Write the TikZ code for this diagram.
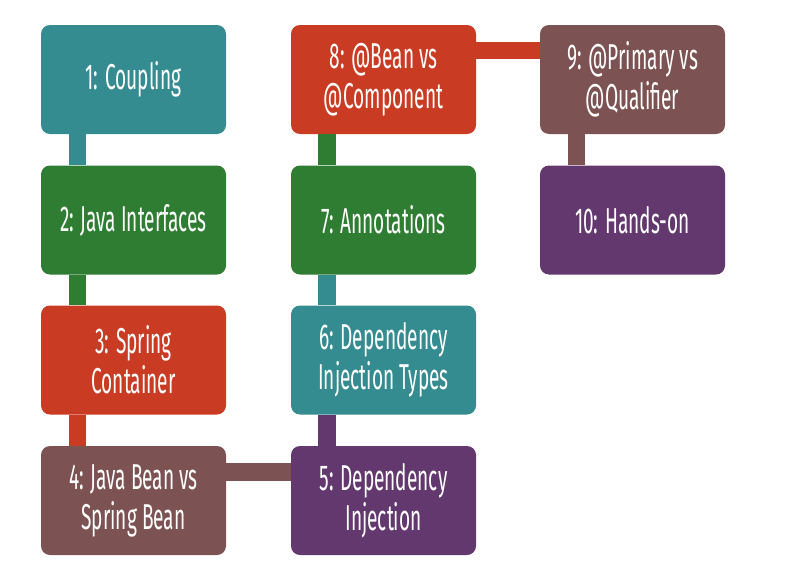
\documentclass[tikz,border=0pt]{standalone}
\usepackage{fontspec}
\setmainfont[FakeStretch=0.53]{Fira Sans}
\definecolor{cteal}{RGB}{52,140,145}
\definecolor{cgreen}{RGB}{46,125,50}
\definecolor{cred}{RGB}{201,59,34}
\definecolor{cbrown}{RGB}{125,82,82}
\definecolor{cpurple}{RGB}{99,56,111}
\tikzset{
  stepbox/.style={fill=#1, draw=none, rounded corners=9pt, minimum width=185pt,
    minimum height=109pt, inner sep=0pt, text=white, align=center,
    font=\fontsize{36}{40}\selectfont},
  link/.style={fill=#1, draw=none}
}
\begin{document}
\begin{tikzpicture}[x=1pt,y=-1pt]
\useasboundingbox (0,0) rectangle (811,565);
% column 1
\node[stepbox=cteal]   (n1) at (133.5,79.5)  {1: Coupling};
\node[stepbox=cgreen]  (n2) at (133.5,220)   {2: Java Interfaces};
\node[stepbox=cred]    (n3) at (133.5,360)   {3: Spring\\Container};
\node[stepbox=cbrown]  (n4) at (133.5,500.5) {4: Java Bean vs\\Spring Bean};
% column 2
\node[stepbox=cpurple] (n5) at (383.5,500.5) {5: Dependency\\Injection};
\node[stepbox=cteal]   (n6) at (383.5,360)   {6: Dependency\\Injection Types};
\node[stepbox=cgreen]  (n7) at (383.5,220)   {7: Annotations};
\node[stepbox=cred]    (n8) at (383.5,79.5)  {8: @Bean vs\\@Component};
% column 3
\node[stepbox=cbrown]  (n9)  at (632.5,79.5) {9: @Primary vs\\@Qualifier};
\node[stepbox=cpurple] (n10) at (632.5,220)  {10: Hands-on};
% connecting bars, each in the colour of the preceding step
\fill[link=cteal]   ([xshift=28pt]n1.south west) rectangle ([xshift=45pt]n2.north west);
\fill[link=cgreen]  ([xshift=28pt]n2.south west) rectangle ([xshift=45pt]n3.north west);
\fill[link=cred]    ([xshift=28pt]n3.south west) rectangle ([xshift=45pt]n4.north west);
\fill[link=cbrown]  ([yshift=-17pt]n4.north east) rectangle ([yshift=-35pt]n5.north west);
\fill[link=cpurple] ([xshift=27pt]n6.south west) rectangle ([xshift=45pt]n5.north west);
\fill[link=cteal]   ([xshift=27pt]n7.south west) rectangle ([xshift=45pt]n6.north west);
\fill[link=cgreen]  ([xshift=27pt]n8.south west) rectangle ([xshift=45pt]n7.north west);
\fill[link=cred]    ([yshift=-17pt]n8.north east) rectangle ([yshift=-34pt]n9.north west);
\fill[link=cbrown]  ([xshift=28pt]n9.south west) rectangle ([xshift=45pt]n10.north west);
\end{tikzpicture}
\end{document}
